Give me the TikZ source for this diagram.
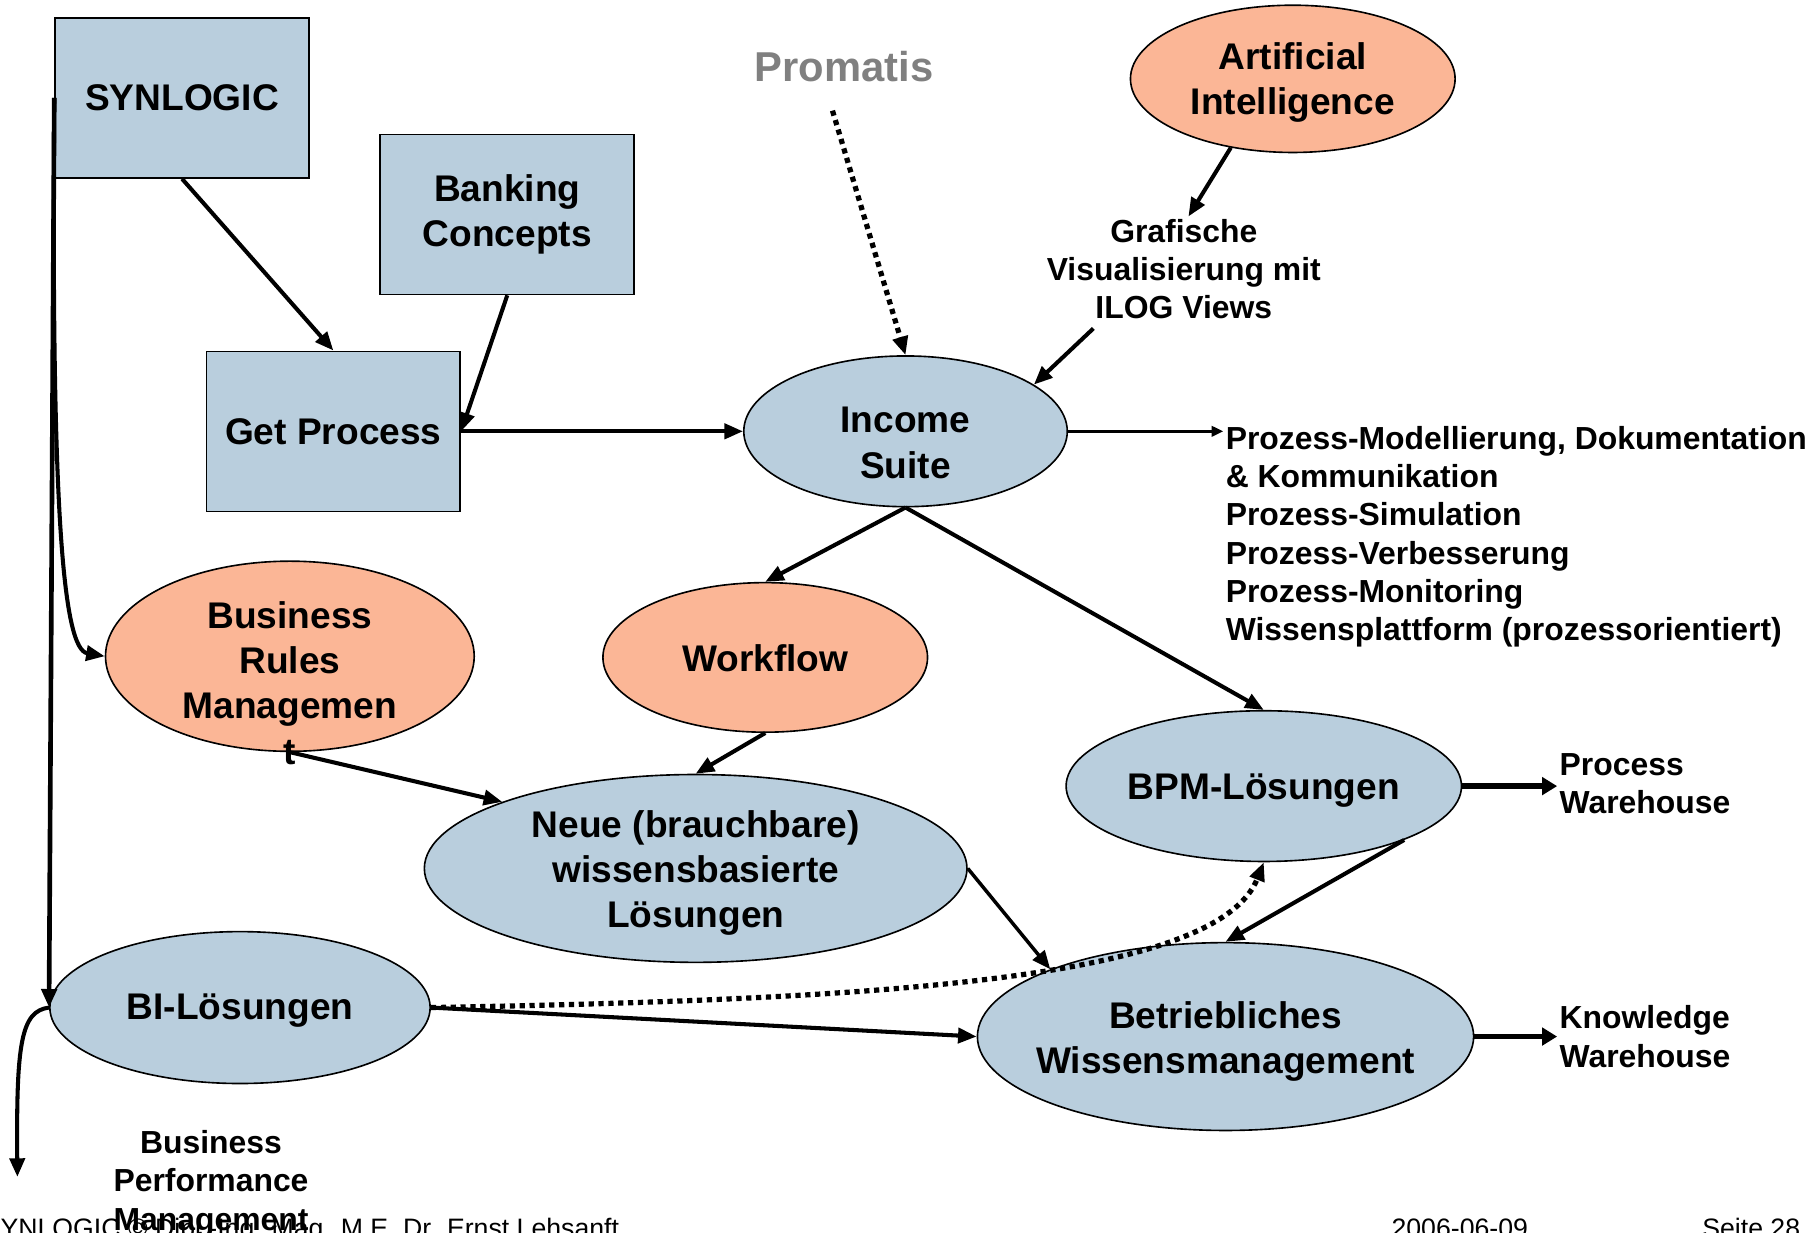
\documentclass[tikz,border=0pt]{standalone}
\usepackage{fontspec}
\setmainfont{Liberation Sans}
\usetikzlibrary{shapes.geometric,arrows.meta,calc}
\definecolor{boxblue}{RGB}{185,206,221}
\definecolor{peach}{RGB}{251,182,150}
\definecolor{promgray}{RGB}{128,128,128}

\begin{document}
\begin{tikzpicture}[x=1pt,y=-1pt,
  big/.style={font=\fontsize{32}{39}\selectfont\bfseries,align=center,inner sep=2pt},
  small/.style={font=\fontsize{27.5}{33}\selectfont\bfseries,inner sep=2pt},
  box/.style={draw,line width=1.4pt,fill=boxblue,minimum width=219pt,minimum height=138pt,big},
  blob/.style={draw,ellipse,line width=1.4pt,inner sep=0pt},
  arr/.style={line width=3.5pt,-{Triangle[length=16pt,width=13pt]}},
  thin arr/.style={line width=2.2pt,-{Triangle[length=10pt,width=9pt]}},
  fat arr/.style={line width=5pt,-{Triangle[length=13pt,width=15pt]}},
  dotarr/.style={line width=4.5pt,dash pattern=on 4.5pt off 4pt,-{Triangle[length=16pt,width=13pt]}},
  foot/.style={font=\fontsize{23}{28}\selectfont,inner sep=0pt}]

  % Page
  \fill[white] (0,0) rectangle (1568,1063);
  \useasboundingbox (0,0) rectangle (1568,1063);

  % Footer (cut by the page edge)
  \node[foot,anchor=base west] (footl) at (-15,1067) {SYNLOGIC © Dipl.-Ing. Mag. M.E. Dr. Ernst Lehsanft};
  \node[foot,anchor=base west] (footd) at (1200,1067) {2006-06-09};
  \node[foot,anchor=base west] (foots) at (1468,1067) {Seite 28};

  % Boxes
  \node[box] (syn) at (157,84.5) {SYNLOGIC};
  \node[box] (bank) at (437.5,185) {Banking\\Concepts};
  \node[box] (getp) at (287.5,372) {Get Process};

  % Ellipses
  \node[blob,fill=peach,minimum width=280pt,minimum height=127pt] (ai) at (1115,68) {};
  \node[big] (ait) at (1115,71) {Artificial\\Intelligence};
  \node[blob,fill=boxblue,minimum width=279pt,minimum height=130pt] (income) at (781,372) {};
  \node[big] (incomet) at (781,382) {Income\\Suite};
  \node[blob,fill=peach,minimum width=318pt,minimum height=164pt] (brm) at (250,566) {};
  \node[big] (brmt) at (250,589) {Business\\Rules\\Managemen\\t};
  \node[blob,fill=peach,minimum width=280pt,minimum height=129pt] (wf) at (660,567) {};
  \node[big] (wft) at (660,568) {Workflow};
  \node[blob,fill=boxblue,minimum width=468pt,minimum height=162pt] (neue) at (600,749) {};
  \node[big] (neuet) at (600,753) {Neue (brauchbare)\\wissensbasierte\\Lösungen};
  \node[blob,fill=boxblue,minimum width=341pt,minimum height=130pt] (bpm) at (1090,678) {};
  \node[big] (bpmt) at (1090,682) {BPM-Lösungen};
  \node[blob,fill=boxblue,minimum width=328pt,minimum height=131pt] (bi) at (207,869) {};
  \node[big] (bit) at (207,872) {BI-Lösungen};
  \node[blob,fill=boxblue,minimum width=428pt,minimum height=162pt] (bwm) at (1057,894) {};
  \node[big] (bwmt) at (1057,898) {Betriebliches\\Wissensmanagement};

  % Free labels
  \node[font=\fontsize{36}{40}\selectfont\bfseries,text=promgray,inner sep=2pt] (promatis) at (728,57) {Promatis};
  \node[small,align=center] (vis) at (1021,232) {Grafische\\Visualisierung mit\\ILOG Views};
  \node[small,align=left,anchor=west] (prozess) at (1055,463) {Prozess-Modellierung, Dokumentation\\\& Kommunikation\\Prozess-Simulation\\Prozess-Verbesserung\\Prozess-Monitoring\\Wissensplattform (prozessorientiert)};
  \node[small,align=left,anchor=west] (pw) at (1343,676) {Process\\Warehouse};
  \node[small,align=left,anchor=west] (kw) at (1343,894) {Knowledge\\Warehouse};
  \node[small,align=center] (bpmg) at (182,1021) {Business\\Performance\\Management};
  \coordinate (bpmgend) at (15,1015);

  % Connectors
  \draw[arr] (syn.south) -- (getp.north);
  \draw[arr] (bank.south) -- (getp.east);
  \draw[arr] (getp.east) -- (income.west);
  \draw[dotarr] ($(promatis.south)+(-10,23)$) -- (income.north);
  \draw[arr] (ai.-132) -- ($(vis.north)+(4,0)$);
  \draw[arr] ($(vis.south)+(-78,6)$) -- (income.20);
  \draw[thin arr] (income.east) -- (income.east -| prozess.west);
  \draw[arr] (income.south) -- (wf.north);
  \draw[arr] (income.south) -- (bpm.north);
  \draw[arr] (wf.south) -- (neue.north);
  \draw[arr] (brm.south) -- (neue.161);
  \draw[arr,line width=3pt] (neue.east) -- (bwm.159);
  \draw[arr] (bpm.-21) -- (bwm.north);
  \draw[fat arr] (bpm.east) -- (bpm.east -| pw.west);
  \draw[fat arr] (bwm.east) -- (bwm.east -| kw.west);
  \draw[arr] (bi.east) -- (bwm.west);
  \draw[dotarr] (bi.east) .. controls (760,862) and (1050,845) .. (bpm.south);

  % SYNLOGIC branches on the left
  \draw[arr,line width=4pt] (syn.west) -- (bi.west);
  \draw[arr] (syn.west) .. controls (44,450) and (55,560) .. (brm.west);
  \draw[arr] (bi.west) .. controls (18,872) and (14,900) .. (bpmgend);
\end{tikzpicture}
\end{document}
